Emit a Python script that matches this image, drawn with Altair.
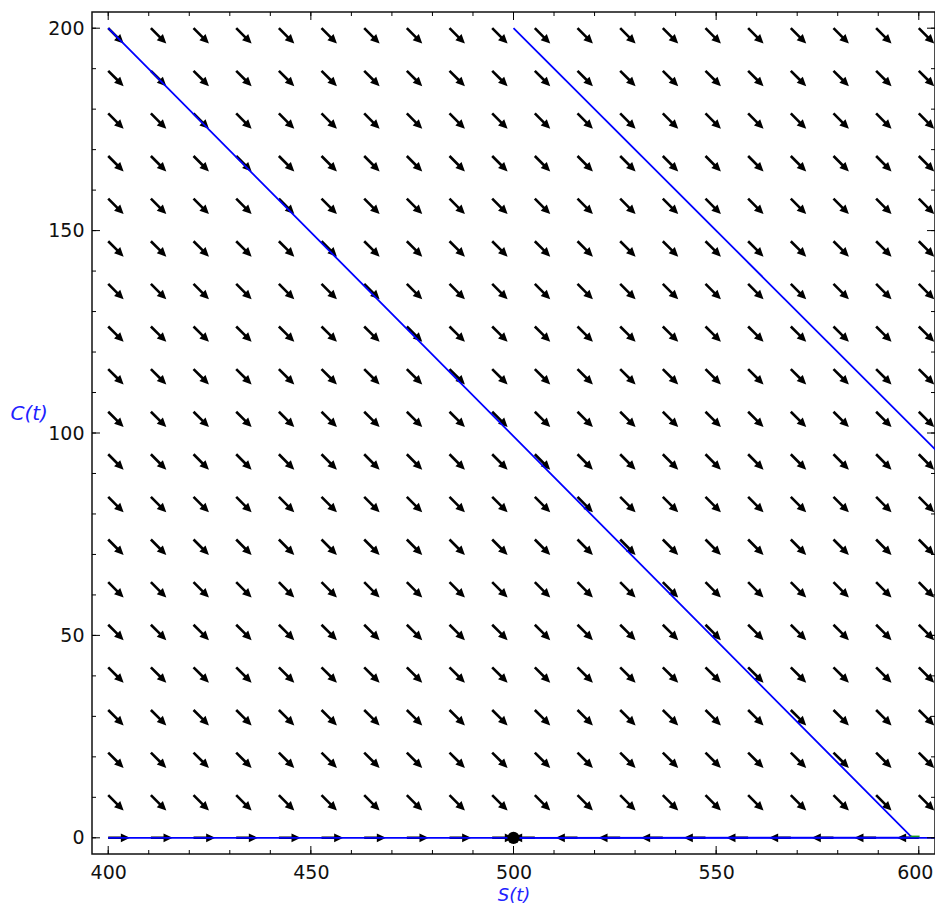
import altair as alt
import pandas as pd

# ---- data ----
S_GRID = [400.0, 410.53, 421.05, 431.58, 442.11, 452.63, 463.16, 473.68, 484.21, 494.74,
          505.26, 515.79, 526.32, 536.84, 547.37, 557.89, 568.42, 578.95, 589.47, 600.0]
C_GRID = [0.0, 10.53, 21.05, 31.58, 42.11, 52.63, 63.16, 73.68, 84.21, 94.74,
          105.26, 115.79, 126.32, 136.84, 147.37, 157.89, 168.42, 178.95, 189.47, 200.0]
# direction of the (normalised) field, degrees clockwise from +S on screen
FIELD_ANGLE_UPPER = 45
# along C = 0 the field is horizontal: right of equilibrium points left
BOTTOM_ANGLES = [0, 0, 0, 0, 0, 0, 0, 0, 0, 0,
                 180, 180, 180, 180, 180, 180, 180, 180, 180, 180]

TRAJ1_S = [400, 597.8, 598.4, 500]
TRAJ1_C = [200, 0.6, 0.1, 0.0]
TRAJ2_S = [500, 610]
TRAJ2_C = [200, 90]
TRAJ3_S = [400, 604]
TRAJ3_C = [0, 0]
GREEN_S = [597.9, 600.2]
GREEN_C = [0.35, 0.35]
EQ_S = [500]
EQ_C = [0]

X_MAJOR = [400, 450, 500, 550, 600]
X_MINOR = [400, 410, 420, 430, 440, 450, 460, 470, 480, 490, 500, 510, 520, 530, 540,
           550, 560, 570, 580, 590, 600]
Y_MAJOR = [0, 50, 100, 150, 200]
Y_MINOR = [0, 10, 20, 30, 40, 50, 60, 70, 80, 90, 100, 110, 120, 130, 140, 150, 160,
           170, 180, 190, 200]

# ---- tables ----
rows = []
for j, c in enumerate(C_GRID):
    for i, s in enumerate(S_GRID):
        ang = BOTTOM_ANGLES[i] if j == 0 else FIELD_ANGLE_UPPER
        rows.append({"S": s, "C": c, "ang": ang})
field = pd.DataFrame(rows)

traj = pd.DataFrame(
    [{"S": s, "C": c, "id": "a", "o": k} for k, (s, c) in enumerate(zip(TRAJ1_S, TRAJ1_C))]
    + [{"S": s, "C": c, "id": "b", "o": k} for k, (s, c) in enumerate(zip(TRAJ2_S, TRAJ2_C))]
    + [{"S": s, "C": c, "id": "c", "o": k} for k, (s, c) in enumerate(zip(TRAJ3_S, TRAJ3_C))]
)
green = pd.DataFrame({"S": GREEN_S, "C": GREEN_C})
eq = pd.DataFrame({"S": EQ_S, "C": EQ_C})

W, H = 843, 842
FONT = "DejaVu Sans"

xscale = alt.Scale(domain=[396, 604], nice=False, zero=False)
yscale = alt.Scale(domain=[-4, 204], nice=False, zero=False)
xaxis = alt.Axis(values=X_MAJOR, ticks=False, domain=False, grid=False, format="d",
                 labelFont=FONT, labelFontSize=19, labelColor="#111", labelPadding=9,
                 labelOffset={"expr": "datum.value == 600 ? -4 : 0"},
                 title="S(t)", titleColor="#2222ff", titleFont=FONT, titleFontSize=18,
                 titleFontStyle="italic", titleFontWeight="normal",
                 titleY=41, titleBaseline="middle")
yaxis = alt.Axis(values=Y_MAJOR, ticks=False, domain=False, grid=False, format="d",
                 labelFont=FONT, labelFontSize=19, labelColor="#111", labelPadding=8,
                 title="C(t)", titleColor="#2222ff", titleFont=FONT, titleFontSize=20,
                 titleFontStyle="italic", titleFontWeight="normal", titleAngle=0,
                 titleAlign="left", titleBaseline="middle", titleX=-82, titleY=401)

X = alt.X("S:Q", scale=xscale, axis=xaxis)
Y = alt.Y("C:Q", scale=yscale, axis=yaxis)

ARROW = "M0,-0.06 L0.58,-0.06 L0.58,-0.2 L1,0 L0.58,0.2 L0.58,0.06 L0,0.06 Z"

arrows = alt.Chart(field).mark_point(
    shape=ARROW, filled=True, color="black", opacity=1, size=1900, strokeWidth=0
).encode(x=X, y=Y, angle=alt.Angle("ang:Q", scale=None))

lines = alt.Chart(traj).mark_line(color="#0000ff", strokeWidth=1.8, clip=True).encode(
    x=X, y=Y, detail="id:N", order="o:Q")

green_line = alt.Chart(green).mark_line(color="#1a9a1a", strokeWidth=1.6, clip=True).encode(
    x=X, y=Y)

dot = alt.Chart(eq).mark_circle(color="black", opacity=1, size=150).encode(x=X, y=Y)

def xt(vals, length, top):
    d = pd.DataFrame({"S": vals})
    y0, y1 = (0, length) if top else (H, H - length)
    return alt.Chart(d).mark_rule(color="black", strokeWidth=1).encode(
        x=X, y=alt.value(y0), y2=alt.value(y1))

def yt(vals, length, right):
    d = pd.DataFrame({"C": vals})
    x0, x1 = (W, W - length) if right else (0, length)
    return alt.Chart(d).mark_rule(color="black", strokeWidth=1).encode(
        y=Y, x=alt.value(x0), x2=alt.value(x1))

ticks = [xt(X_MINOR, 4, False), xt(X_MINOR, 4, True), xt(X_MAJOR, 8, False), xt(X_MAJOR, 8, True),
         yt(Y_MINOR, 4, False), yt(Y_MINOR, 4, True), yt(Y_MAJOR, 8, False), yt(Y_MAJOR, 8, True)]

chart = alt.layer(arrows, lines, green_line, dot, *ticks).properties(
    width=W, height=H,
    autosize=alt.AutoSizeParams(type="none"),
    padding={"left": 84, "top": 4, "right": 0, "bottom": 50},
    background="white",
).configure_view(stroke="#111", strokeWidth=1.5)

chart.save("out.html", embed_options={"renderer": "svg", "actions": False})
